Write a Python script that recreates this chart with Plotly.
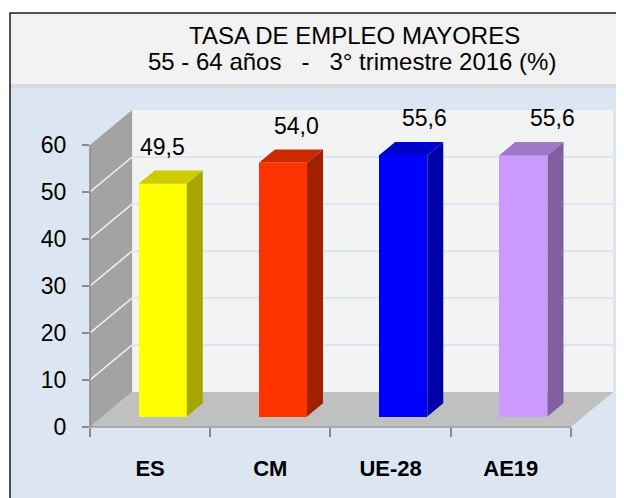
import plotly.graph_objects as go

# ---------------- data ----------------
categories = ["ES", "CM", "UE-28", "AE19"]
values = [49.5, 54.0, 55.6, 55.6]
value_labels = ["49,5", "54,0", "55,6", "55,6"]
y_ticks = [0, 10, 20, 30, 40, 50, 60]
title_line1 = "TASA DE EMPLEO MAYORES"
title_line2 = "55 - 64 años   -   3° trimestre 2016 (%)"

# ---------------- styles ----------------
front_colors = ["#ffff00", "#ff3300", "#0000ff", "#cc99ff"]
side_colors = ["#a6a600", "#a02000", "#0000a8", "#8060a0"]
top_colors = ["#cccc00", "#cc2900", "#0000cc", "#a078c8"]
label_xshift = [0, 14, 21, 29]
FONT = "Liberation Sans, Arial, sans-serif"

# the page body has an 8px margin; the figure is sized to fill the rest of the window
OFF = 8
W, H = 624 - OFF, 498 - OFF
L, R, T, B = 90 - OFF, 11, 110 - OFF, 71

n = len(categories)
ymax = max(y_ticks)
DX, DY = 0.35, 7.45          # depth of the 3D box (axis units)
x_lo, x_hi = -0.5, n - 0.5
x_range = [x_lo, x_hi + DX]
y_range = [0, ymax + DY]

BAR_W = 0.4
F_FRONT = 0.3                # depth fraction of bar front face
F_DEPTH = 0.38               # bar depth as fraction of box depth
ox, oy = F_FRONT * DX, F_FRONT * DY
bdx, bdy = F_DEPTH * DX, F_DEPTH * DY


def pxx(px):
    return (px - OFF - L) / (W - L - R)


def pxy(py):
    return (H - B - (py - OFF)) / (H - T - B)


shapes = []
# background panels (paper)
shapes.append(dict(type="rect", xref="paper", yref="paper", x0=pxx(10), x1=pxx(622),
                   y0=pxy(88), y1=pxy(520), fillcolor="#dce6f2", line_width=0, layer="below"))
shapes.append(dict(type="rect", xref="paper", yref="paper", x0=pxx(10), x1=pxx(622),
                   y0=pxy(84), y1=pxy(13), fillcolor="#f2f2f2", line_width=0, layer="below"))
shapes.append(dict(type="rect", xref="paper", yref="paper", x0=pxx(10), x1=pxx(622),
                   y0=pxy(88), y1=pxy(84), fillcolor="#d9d9d9", line_width=0, layer="below"))
shapes.append(dict(type="rect", xref="paper", yref="paper", x0=pxx(10), x1=pxx(622),
                   y0=pxy(520), y1=pxy(13), fillcolor="rgba(0,0,0,0)",
                   line=dict(color="#1a1a1a", width=1.5), layer="below"))


def poly(pts):
    return "M " + " L ".join(f"{x},{y}" for x, y in pts) + " Z"


# back wall
shapes.append(dict(type="path", xref="x", yref="y", layer="below",
                   path=poly([(x_lo + DX, DY), (x_hi + DX, DY), (x_hi + DX, ymax + DY), (x_lo + DX, ymax + DY)]),
                   fillcolor="#f3f3f3", line_width=0))
# side wall
shapes.append(dict(type="path", xref="x", yref="y", layer="below",
                   path=poly([(x_lo, 0), (x_lo + DX, DY), (x_lo + DX, ymax + DY), (x_lo, ymax)]),
                   fillcolor="#a3a3a3", line_width=0))
# floor
shapes.append(dict(type="path", xref="x", yref="y", layer="below",
                   path=poly([(x_lo, 0), (x_hi, 0), (x_hi + DX, DY), (x_lo + DX, DY)]),
                   fillcolor="#c0c0c0", line_width=0))
# gridlines
for v in y_ticks[1:-1]:
    shapes.append(dict(type="line", xref="x", yref="y", layer="below",
                       x0=x_lo + DX, x1=x_hi + DX, y0=v + DY, y1=v + DY,
                       line=dict(color="#dce6f2", width=2)))
    shapes.append(dict(type="line", xref="x", yref="y", layer="below",
                       x0=x_lo, x1=x_lo + DX, y0=v, y1=v + DY,
                       line=dict(color="#f4f4f4", width=1.5)))
# axis lines
shapes.append(dict(type="line", xref="x", yref="paper", x0=x_lo, x1=x_hi, y0=0, y1=0,
                   line=dict(color="#9a9a9a", width=1.5), layer="above"))
shapes.append(dict(type="line", xref="paper", yref="y", x0=0, x1=0, y0=0, y1=ymax,
                   line=dict(color="#8a8a8a", width=1.5), layer="above"))

fig = go.Figure()

xs = [i + ox for i in range(n)]
fig.add_trace(go.Bar(x=xs, y=values, base=oy, width=BAR_W,
                     marker=dict(color=front_colors, line_width=0),
                     hoverinfo="skip", showlegend=False))

for i, v in enumerate(values):
    xl = xs[i] - BAR_W / 2
    xr = xs[i] + BAR_W / 2
    yb = oy
    yt = oy + v
    side = [(xr, yb), (xr, yt), (xr + bdx, yt + bdy), (xr + bdx, yb + bdy), (xr, yb)]
    top = [(xl, yt), (xr, yt), (xr + bdx, yt + bdy), (xl + bdx, yt + bdy), (xl, yt)]
    for pts, col in ((side, side_colors[i]), (top, top_colors[i])):
        fig.add_trace(go.Scatter(x=[p[0] for p in pts], y=[p[1] for p in pts],
                                 mode="lines", fill="toself", fillcolor=col,
                                 line=dict(width=0, color=col),
                                 hoverinfo="skip", showlegend=False))

annotations = []
for i, v in enumerate(values):
    annotations.append(dict(x=xs[i], y=v + oy, xref="x", yref="y", text=value_labels[i],
                            showarrow=False, yanchor="middle", yshift=37, xshift=label_xshift[i],
                            font=dict(family=FONT, size=23, color="#000000")))

annotations.append(dict(x=pxx(354), y=pxy(36), xref="paper", yref="paper", text=title_line1,
                        showarrow=False, xanchor="center", yanchor="middle",
                        font=dict(family=FONT, size=24, color="#000000")))
annotations.append(dict(x=pxx(352), y=pxy(61), xref="paper", yref="paper",
                        text=title_line2.replace(" ", "\u00a0"),
                        showarrow=False, xanchor="center", yanchor="middle",
                        font=dict(family=FONT, size=24, color="#000000")))

fig.update_layout(
    width=W, height=H,
    margin=dict(l=L, r=R, t=T, b=B, pad=0, autoexpand=False),
    paper_bgcolor="#ffffff",
    plot_bgcolor="rgba(0,0,0,0)",
    shapes=shapes,
    annotations=annotations,
    showlegend=False,
    bargap=0,
    xaxis=dict(type="linear", range=x_range, showgrid=False, zeroline=False, showline=False,
               automargin=False,
               tickmode="array", tickvals=list(range(n)), ticktext=categories,
               ticks="", ticklen=0, ticklabelstandoff=26,
               tickfont=dict(family=FONT, size=22, color="#000000", weight="bold"),
               minor=dict(tickmode="array", tickvals=[i - 0.5 for i in range(n + 1)],
                          ticks="outside", ticklen=9, tickwidth=1.5, tickcolor="#8a8a8a",
                          showgrid=False)),
    yaxis=dict(range=y_range, showgrid=False, zeroline=False, showline=False,
               automargin=False,
               tickmode="array", tickvals=y_ticks, ticktext=[str(t) for t in y_ticks],
               ticks="outside", ticklen=7, tickwidth=1.5, tickcolor="#8a8a8a",
               ticklabelstandoff=11,
               tickfont=dict(family=FONT, size=23, color="#000000")),
)

fig.write_html("out.html")
